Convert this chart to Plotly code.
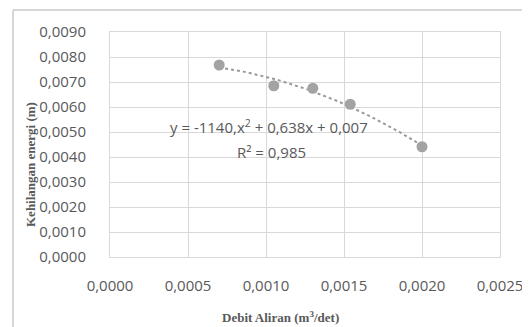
import numpy as np
import plotly.graph_objects as go

debit = [0.0007, 0.00105, 0.0013, 0.00154, 0.0020]
kehilangan = [0.00768, 0.00685, 0.00675, 0.00611, 0.00441]
x_ticks = [0.0, 0.0005, 0.0010, 0.0015, 0.0020, 0.0025]
y_ticks = [i * 0.001 for i in range(10)]
eq_text = "y = -1140,x<sup>2</sup> + 0,638x + 0,007"
r2_text = "R² = 0,985"

coef = np.polyfit(debit, kehilangan, 2)
xs = np.linspace(min(debit), max(debit), 60)
ys = np.polyval(coef, xs)

fig = go.Figure()
fig.add_trace(go.Scatter(x=xs, y=ys, mode="lines",
                         line=dict(color="#9a9a9a", width=2, dash="dot"),
                         hoverinfo="skip", showlegend=False))
fig.add_trace(go.Scatter(x=debit, y=kehilangan, mode="markers",
                         marker=dict(color="#a3a3a3", size=11),
                         showlegend=False))

tickfont = dict(family="Open Sans", size=15, color="#595959")
fig.update_xaxes(range=[0, 0.0025], tickvals=x_ticks, tickformat=".4f",
                 showgrid=True, gridcolor="#d9d9d9", gridwidth=1, automargin=False,
                 zeroline=False, showline=True, linecolor="#d9d9d9", mirror=True,
                 ticks="outside", ticklen=15, tickcolor="rgba(0,0,0,0)",
                 tickfont=tickfont)
fig.update_yaxes(range=[0, 0.009], tickvals=y_ticks, tickformat=".4f",
                 showgrid=True, gridcolor="#d9d9d9", gridwidth=1, automargin=False,
                 zeroline=False, showline=True, linecolor="#d9d9d9", mirror=True,
                 ticks="outside", ticklen=20, tickcolor="rgba(0,0,0,0)",
                 tickfont=tickfont)

# the page body has an 8px margin, so the figure is drawn from (8, 8)
OFF = 8
W, H = 530 - OFF, 327 - OFF
L, T = 110 - OFF, 32 - OFF
pw, ph = 390, 225
R = W - L - pw
B = H - T - ph

def px(x):
    return (x - OFF - L) / pw

def py(y):
    return (T + ph - (y - OFF)) / ph

fig.add_shape(type="line", xref="paper", yref="paper",
              x0=px(13), y0=py(10), x1=px(530), y1=py(10),
              line=dict(color="#c8c8c8", width=1.5))
fig.add_shape(type="line", xref="paper", yref="paper",
              x0=px(13), y0=py(10), x1=px(13), y1=py(327),
              line=dict(color="#c8c8c8", width=1.5))

def ann(x, y, text, font, angle=0):
    fig.add_annotation(xref="paper", yref="paper", x=px(x), y=py(y),
                       xanchor="center", yanchor="middle",
                       text=text, showarrow=False, textangle=angle, font=font)

eqfont = dict(family="Open Sans", size=15, color="#595959")
titlefont = dict(family="Liberation Serif", size=13, color="#595959")
ann(269, 126, eq_text, eqfont)
ann(271, 152, r2_text, eqfont)
ann(30, 165, "<b>Kehilangan energi (m)</b>", titlefont, -90)
ann(280, 317, "<b>Debit Aliran (m<sup>3</sup>/det)</b>", titlefont)

fig.update_layout(width=W, height=H,
                  margin=dict(l=L, r=R, t=T, b=B, autoexpand=False),
                  paper_bgcolor="white", plot_bgcolor="white",
                  separators=", ", showlegend=False)
fig.write_html("out.html")
